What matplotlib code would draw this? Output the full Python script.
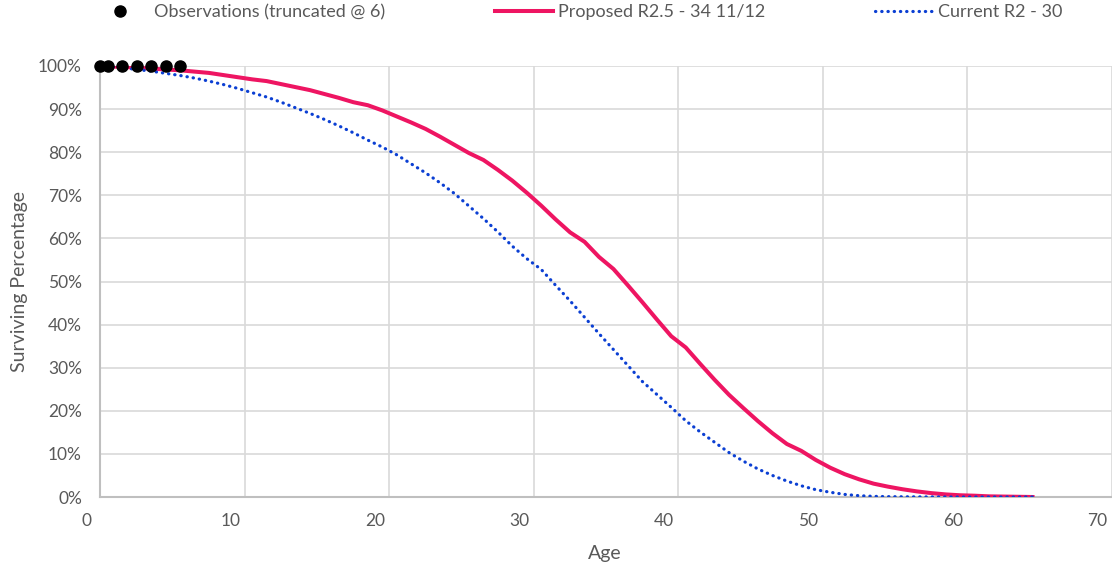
import matplotlib
matplotlib.use('Agg')
import matplotlib.pyplot as plt
from matplotlib.lines import Line2D
import numpy as np

# ---- data ----
ages = [1.0] + [a + 0.5 for a in range(1, 66)]
proposed = [100, 99.9, 99.8, 99.6, 99.4, 99.2, 99.0, 98.7, 98.4, 97.9, 97.4,
            96.9, 96.5, 95.8, 95.1, 94.4, 93.5, 92.6, 91.6, 90.9, 89.7,
            88.3, 86.9, 85.4, 83.6, 81.7, 79.8, 78.2, 75.9, 73.4, 70.6,
            67.6, 64.4, 61.4, 59.2, 55.7, 52.9, 49.1, 45.2, 41.2, 37.3,
            34.7, 30.9, 27.2, 23.7, 20.6, 17.6, 14.8, 12.3, 10.7, 8.6,
            6.8, 5.3, 4.1, 3.1, 2.4, 1.8, 1.3, 0.9, 0.6, 0.4,
            0.3, 0.15, 0.1, 0.05, 0.0]
current = [100, 99.9, 99.6, 99.2, 98.8, 98.3, 97.8, 97.2, 96.5, 95.7, 94.8,
           93.8, 92.8, 91.6, 90.3, 89.0, 87.6, 86.1, 84.5, 82.8, 81.2,
           79.4, 77.3, 75.2, 72.9, 70.4, 67.5, 64.6, 61.5, 58.2, 55.3,
           52.8, 49.1, 45.5, 41.7, 37.9, 34.2, 30.5, 26.8, 23.8, 20.8,
           17.7, 15.1, 12.7, 10.3, 8.3, 6.5, 5.0, 3.7, 2.6, 1.7,
           1.1, 0.6, 0.3, 0.15, 0.08, 0.05, 0.03, 0.02, 0.01, 0.0,
           0.0, 0.0, 0.0, 0.0, 0.0]
obs_ages = [1.0, 1.5, 2.5, 3.5, 4.5, 5.5, 6.5]
obs_vals = [100, 100, 100, 100, 100, 100, 100]

x_labels = [0, 10, 20, 30, 40, 50, 60, 70]
y_ticks = [0, 10, 20, 30, 40, 50, 60, 70, 80, 90, 100]
grid_x = [1, 11, 21, 31, 41, 51, 61, 71]

labels = ['Observations (truncated @ 6)', 'Proposed R2.5 - 34 11/12', 'Current R2 - 30']

RED = '#EE1562'
BLUE = '#0B3FD3'
TXT = '#595959'
FONT = 'Lato'
FS_TICK = 12.5
FS_LEG = 13
FS_AX = 14

plt.rcParams['font.family'] = [FONT, 'DejaVu Sans']

fig = plt.figure(figsize=(11.12, 5.68), dpi=100)
ax = fig.add_axes([100 / 1112, 71 / 568, 1012 / 1112, 431 / 568])
ax.set_xlim(0.967, 70.86)
ax.set_ylim(0, 100)

ax.set_xticks(grid_x)
ax.set_xticklabels([])
ax.set_yticks(y_ticks)
ax.set_yticklabels([f'{v}%' for v in y_ticks], fontsize=FS_TICK, color=TXT)
ax.tick_params(axis='both', length=0)
ax.tick_params(axis='y', pad=13)
ax.grid(True, color='#d9d9d9', lw=1.2)
ax.set_axisbelow(True)
for s in ['top', 'right']:
    ax.spines[s].set_visible(False)
for s in ['left', 'bottom']:
    ax.spines[s].set_color('#bfbfbf')
    ax.spines[s].set_linewidth(1.5)

for v in x_labels:
    ax.text(v, -24 / 431, str(v), transform=ax.get_xaxis_transform(),
            ha='center', va='center', fontsize=FS_TICK, color=TXT, clip_on=False)

ax.plot(ages, proposed, color=RED, lw=2.9, zorder=3)
ax.plot(ages, current, color=BLUE, lw=2.3, linestyle=(0, (0.1, 1.85)),
        dash_capstyle='round', zorder=4)
ax.plot(obs_ages, obs_vals, 'o', color='black', ms=8, clip_on=False, zorder=5)

fig.text(605 / 1112, 1 - 553 / 568, 'Age', ha='center', va='center', fontsize=FS_AX, color=TXT)
fig.text(20 / 1112, 1 - 281 / 568, 'Surviving Percentage', ha='center', va='center',
         rotation=90, fontsize=FS_AX, color=TXT)

handles = [Line2D([], [], marker='o', ls='none', color='black', ms=8),
           Line2D([], [], color=RED, lw=2.9),
           Line2D([], [], color=BLUE, lw=2.3, linestyle=(0, (0.1, 1.85)), dash_capstyle='round')]
px = FS_LEG * 100 / 72
leg = fig.legend(handles, labels, loc='center', bbox_to_anchor=(576.5 / 1112, 1 - 12 / 568),
                 ncol=3, frameon=False, fontsize=FS_LEG, handlelength=58 / px,
                 handletextpad=5 / px, columnspacing=110 / px, borderpad=0, borderaxespad=0)
for t in leg.get_texts():
    t.set_color(TXT)

fig.savefig('out.png', dpi=100)
